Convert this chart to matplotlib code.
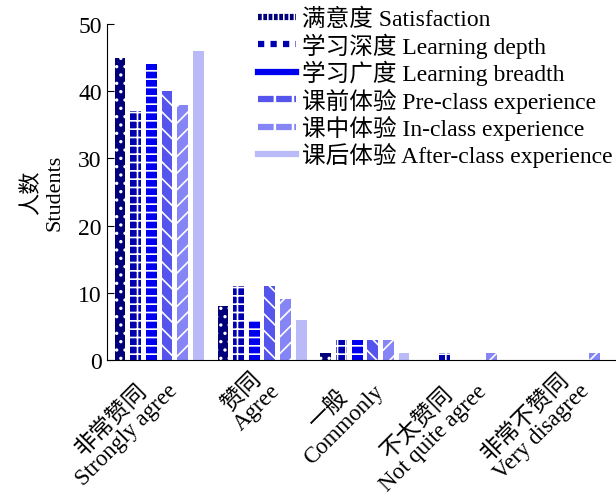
import numpy as np
import matplotlib.pyplot as plt
import matplotlib.transforms as mtransforms
from matplotlib.lines import Line2D

plt.rcParams['font.family'] = ['Liberation Serif', 'Noto Sans CJK SC']
plt.rcParams['hatch.linewidth'] = 1.2

categories = ['非常赞同\nStrongly agree', '赞同\nAgree', '一般\nCommonly',
              '不太赞同\nNot quite agree', '非常不赞同\nVery disagree']
series_names = ['满意度 Satisfaction', '学习深度 Learning depth',
                '学习广度 Learning breadth', '课前体验 Pre-class experience',
                '课中体验 In-class experience', '课后体验 After-class experience']
satisfaction = [45, 8, 1, 0, 0]
learning_depth = [37, 11, 3, 1, 0]
learning_breadth = [44, 6, 3, 0, 0]
pre_class = [40, 11, 3, 0, 0]
in_class = [38, 9, 3, 1, 1]
after_class = [46, 6, 1, 0, 0]

series = [satisfaction, learning_depth, learning_breadth,
          pre_class, in_class, after_class]
colors = ['#00007a', '#0000b0', '#0000f0', '#5555ee', '#8585f5', '#babaf8']
hatches = ['..', '++', '--', '\\\\', '//', '']
leg_styles = [(0, (0.6, 0.25)), (0, (1, 1)), '-', (0, (2.5, 0.4)),
              (0, (2.5, 0.4)), '-']

fig = plt.figure(figsize=(6.16, 5.02), dpi=100)
ax = fig.add_axes([0.174, 0.281, 0.826, 0.669])

x = np.arange(len(categories))
step = 0.152
width = 0.105
for i, (vals, c, h) in enumerate(zip(series, colors, hatches)):
    ax.bar(x + (i - 2.5) * step, vals, width=width, color=c,
           edgecolor='white', linewidth=0, hatch=h)

ax.set_xlim(-0.505, 4.44)
ax.set_ylim(0, 50)
ax.set_yticks([0, 10, 20, 30, 40, 50])
ax.tick_params(axis='y', direction='in', length=5, labelsize=17, pad=4)
ax.tick_params(axis='x', length=0, pad=3)
ax.set_xticks(x)
ax.set_xticklabels(categories, rotation=45, ha='right',
                   rotation_mode='anchor', multialignment='center',
                   fontsize=16.5, linespacing=1.05)
# nudge the rotated labels left, as in the original
shift = mtransforms.ScaledTranslation(-8 / 100, 0, fig.dpi_scale_trans)
for lbl in ax.get_xticklabels():
    lbl.set_transform(lbl.get_transform() + shift)
ax.spines['top'].set_visible(False)
ax.spines['right'].set_visible(False)
ax.set_ylabel('人数\nStudents', fontsize=16, labelpad=10)

handles = [Line2D([0], [0], color=c, lw=4.5, linestyle=s)
           for c, s in zip(colors, leg_styles)]
ax.legend(handles, series_names, loc='upper right',
          bbox_to_anchor=(1.0, 0.99), bbox_transform=fig.transFigure,
          frameon=False, fontsize=17, labelspacing=0.1, handlelength=1.6,
          handletextpad=0.25, borderpad=0.1, borderaxespad=0.05)

fig.savefig('out.png', dpi=100)
